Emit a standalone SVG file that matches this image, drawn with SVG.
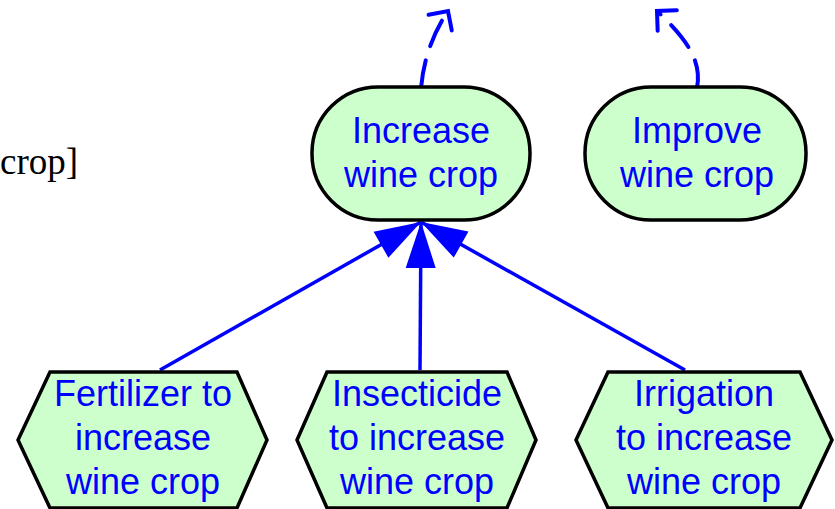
<svg xmlns="http://www.w3.org/2000/svg" width="835" height="509" viewBox="0 0 835 509">
  <defs>
    <style>
      .node { fill: #ccffcc; stroke: #000; stroke-width: 3.5; }
      .lbl { font-family: "Liberation Sans", Arial, sans-serif; font-size: 36px; fill: #0000ff; text-anchor: middle; }
      .edge { fill: none; stroke: #0000ff; stroke-width: 3.5; }
      .dashed { fill: none; stroke: #0000ff; stroke-width: 4; stroke-dasharray: 28 15; stroke-linecap: round; }
      .side { font-family: "Liberation Serif", "Times New Roman", serif; font-size: 37px; fill: #000; }
    </style>
    <marker id="solidHead" markerUnits="userSpaceOnUse" markerWidth="48" markerHeight="32" refX="46" refY="15" orient="auto" overflow="visible">
      <path d="M0,0 L46,15 L0,30 Z" fill="#0000ff"/>
    </marker>
    <marker id="openHead" markerUnits="userSpaceOnUse" markerWidth="30" markerHeight="30" refX="0" refY="0" orient="auto" overflow="visible">
      <path d="M-14,-14 L0,0 L-14,14" fill="none" stroke="#0000ff" stroke-width="4" stroke-linecap="round" stroke-linejoin="miter"/>
    </marker>
  </defs>

  <rect width="835" height="509" fill="#ffffff"/>

  <!-- caption fragment on the left edge -->
  <text class="side" x="0" y="174">crop]</text>

  <!-- connectors -->
  <g id="connectors">
    <line class="edge" x1="160" y1="370" x2="421" y2="222" marker-end="url(#solidHead)"/>
    <line class="edge" x1="420" y1="370" x2="421" y2="222" marker-end="url(#solidHead)"/>
    <line class="edge" x1="685" y1="370" x2="421" y2="222" marker-end="url(#solidHead)"/>
    <path class="dashed" d="M421,88 Q425,45 448,11" marker-end="url(#openHead)"/>
    <path class="dashed" d="M697,88 C702,62 688,40 657,11" marker-end="url(#openHead)"/>
  </g>

  <!-- goals -->
  <g id="increase-wine-crop">
    <rect class="node" x="312" y="87" width="218" height="133" rx="66" ry="66"/>
    <text class="lbl" x="421" y="143">Increase</text>
    <text class="lbl" x="421" y="187">wine crop</text>
  </g>
  <g id="improve-wine-crop">
    <rect class="node" x="585" y="87" width="221" height="133" rx="66" ry="66"/>
    <text class="lbl" x="697" y="143">Improve</text>
    <text class="lbl" x="697" y="187">wine crop</text>
  </g>

  <!-- tasks -->
  <g id="fertilizer">
    <polygon class="node" points="50,372 237,372 267,440 237,508 50,508 18,440"/>
    <text class="lbl" x="143" y="406">Fertilizer to</text>
    <text class="lbl" x="143" y="450">increase</text>
    <text class="lbl" x="143" y="494">wine crop</text>
  </g>
  <g id="insecticide">
    <polygon class="node" points="327,372 507,372 536,440 507,508 327,508 297,440"/>
    <text class="lbl" x="417" y="406">Insecticide</text>
    <text class="lbl" x="417" y="450">to increase</text>
    <text class="lbl" x="417" y="494">wine crop</text>
  </g>
  <g id="irrigation">
    <polygon class="node" points="608,372 800,372 832,440 800,508 608,508 576,440"/>
    <text class="lbl" x="704" y="406">Irrigation</text>
    <text class="lbl" x="704" y="450">to increase</text>
    <text class="lbl" x="704" y="494">wine crop</text>
  </g>
</svg>
